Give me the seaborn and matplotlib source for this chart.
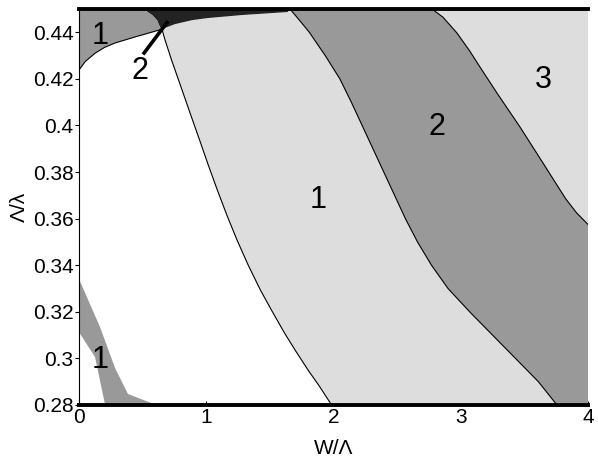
import numpy as np
import matplotlib
matplotlib.use("Agg")
import matplotlib.pyplot as plt
import seaborn as sns
import pandas as pd

# boundary curves (x = W/Lambda, y = Lambda/lambda)
curve_a_x = [0.652, 0.676, 0.728, 0.810, 0.875, 0.948, 1.016, 1.087, 1.162, 1.242,
             1.33, 1.425, 1.52, 1.615, 1.705, 1.80, 1.89, 1.985]
curve_a_y = [0.4414, 0.4367, 0.428, 0.4152, 0.405, 0.3937, 0.383, 0.3723, 0.3615, 0.3508,
             0.340, 0.3294, 0.320, 0.3109, 0.303, 0.295, 0.288, 0.28]

curve_b_x = [1.658, 1.72, 1.81, 1.935, 2.05, 2.14, 2.225, 2.31, 2.395, 2.48,
             2.565, 2.66, 2.77, 2.90, 3.07, 3.25, 3.43, 3.61, 3.756]
curve_b_y = [0.45, 0.446, 0.44, 0.43, 0.42, 0.41, 0.40, 0.39, 0.38, 0.37,
             0.36, 0.35, 0.34, 0.33, 0.32, 0.31, 0.30, 0.29, 0.28]

curve_c_x = [2.774, 2.86, 2.97, 3.07, 3.151, 3.285, 3.466, 3.646, 3.74, 3.825, 3.91, 4.0]
curve_c_y = [0.45, 0.4465, 0.4397, 0.432, 0.4251, 0.4139, 0.3993, 0.3839, 0.3758, 0.3685,
             0.3625, 0.3575]

curve_d_x = [0.0, 0.05, 0.126, 0.2, 0.283, 0.44, 0.62, 0.652]
curve_d_y = [0.4238, 0.4275, 0.431, 0.4335, 0.4354, 0.438, 0.4408, 0.4414]

curve_e_x = [0.503, 0.574, 0.613, 0.636, 0.652]
curve_e_y = [0.45, 0.4474, 0.4452, 0.4422, 0.4414]

curve_f_x = [0.652, 0.754, 0.888, 1.01, 1.28, 1.64, 1.658]
curve_f_y = [0.4414, 0.4435, 0.4452, 0.4461, 0.4474, 0.4487, 0.45]

low_outer_x = [0.0, 0.165, 0.283, 0.385, 0.59]
low_outer_y = [0.3341, 0.3135, 0.2959, 0.2847, 0.2804]
low_inner_x = [0.0, 0.126, 0.204]
low_inner_y = [0.3113, 0.3006, 0.2804]

labels = ["1", "2", "1", "2", "3", "1"]
label_x = [0.165, 0.48, 1.88, 2.81, 3.65, 0.165]
label_y = [0.4385, 0.4235, 0.368, 0.3993, 0.4195, 0.2993]

xmin, xmax, ymin, ymax = 0, 4, 0.28, 0.45

sns.set_theme(style="white")
plt.rcParams["font.family"] = ["Liberation Sans", "DejaVu Sans"]
plt.rcParams["text.color"] = "black"
plt.rcParams["axes.labelcolor"] = "black"
plt.rcParams["xtick.color"] = "black"
plt.rcParams["ytick.color"] = "black"

light = "#dddddd"
mid = "#999999"
dark = "#232323"

fig = plt.figure(figsize=(5.98, 4.57), dpi=100)
ax = fig.add_axes([0.1321, 0.1138, 0.9833 - 0.1321, 0.9803 - 0.1138])

# light gray (regions 1 and 3)
px = curve_a_x + [xmax, xmax] + curve_f_x[::-1]
py = curve_a_y + [ymin, ymax] + curve_f_y[::-1]
ax.fill(px, py, color=light, lw=0)

# dark band (region 2)
px = curve_b_x + [xmax] + curve_c_x[::-1]
py = curve_b_y + [ymin] + curve_c_y[::-1]
ax.fill(px, py, color=mid, lw=0)

# black region near the top
px = curve_e_x + curve_f_x[1:]
py = curve_e_y + curve_f_y[1:]
ax.fill(px, py, color=dark, lw=0)

# medium gray top-left
px = [xmin] + curve_e_x + curve_d_x[::-1][1:]
py = [ymax] + curve_e_y + curve_d_y[::-1][1:]
ax.fill(px, py, color=mid, lw=0)

# small patch bottom-left
px = low_outer_x + [0.59] + low_inner_x[::-1]
py = low_outer_y + [ymin] + low_inner_y[::-1]
ax.fill(px, py, color=mid, lw=0)

# thin boundary lines
for cx, cy in [(curve_a_x, curve_a_y), (curve_b_x, curve_b_y),
               (curve_c_x, curve_c_y), (curve_d_x, curve_d_y)]:
    df = pd.DataFrame({"x": cx, "y": cy})
    sns.lineplot(data=df, x="x", y="y", ax=ax, color="black", lw=0.8,
                 sort=False, estimator=None)

for t, lx, ly in zip(labels, label_x, label_y):
    ax.text(lx, ly, t, fontsize=22, ha="center", va="center", color="black")

# pointer for the small region 2
ax.plot([0.503, 0.70], [0.4305, 0.4448], color="black", lw=2.6, solid_capstyle="butt")

ax.set_xlim(xmin, xmax)
ax.set_ylim(ymin, ymax)
ax.set_xticks([0, 1, 2, 3, 4])
ax.set_xticklabels(["0", "1", "2", "3", "4"])
ax.set_yticks([0.28, 0.3, 0.32, 0.34, 0.36, 0.38, 0.4, 0.42, 0.44])
ax.set_yticklabels(["0.28", "0.3", "0.32", "0.34", "0.36", "0.38", "0.4", "0.42", "0.44"])
ax.tick_params(axis="x", direction="in", length=3, width=0.8, labelsize=15, pad=2,
               color="black", labelcolor="black", bottom=True)
ax.tick_params(axis="y", direction="out", length=3, width=0.8, labelsize=15, pad=1,
               color="black", labelcolor="black", left=True)
ax.set_xlabel("W/Λ", fontsize=15, labelpad=9, color="black")
ax.set_ylabel("Λ/λ", fontsize=15, labelpad=3, color="black")

for side in ["top", "bottom"]:
    ax.spines[side].set_linewidth(2.8)
    ax.spines[side].set_color("black")
ax.spines["left"].set_linewidth(0.8)
ax.spines["left"].set_color("black")
ax.spines["right"].set_visible(False)

fig.savefig("out.png", dpi=100)
